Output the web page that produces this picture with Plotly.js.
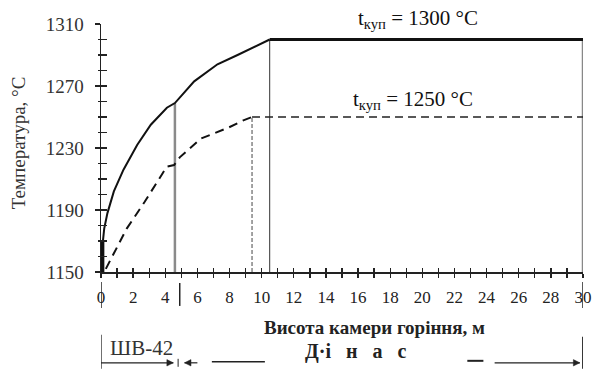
<!DOCTYPE html>
<html><head><meta charset="utf-8">
<script src="https://cdn.plot.ly/plotly-3.0.1.min.js"></script>
<style>html,body{margin:0;padding:0;background:#fff}#chart{width:597px;height:369px}</style>
</head><body><div id="chart"></div>
<script>
// Solid curve (t_куп = 1300 °C)
const solidX = [0.1, 0.1, 0.2, 0.4, 0.8, 1.4, 2.25, 3.1, 4.1, 4.6, 5.8, 7.25, 8.5, 9.75, 10.5];
const solidY = [1150, 1168, 1178, 1188, 1202, 1216, 1232, 1245, 1256, 1259, 1273, 1284, 1290, 1296, 1300];
const plateau1X = [10.5, 30];
const plateau1Y = [1300, 1300];
// Dashed curve (t_куп = 1250 °C)
const dashX = [0.3, 0.6, 0.9, 1.6, 2.7, 3.6, 4.1, 4.55, 4.9, 6.2, 7.9, 8.9, 9.4];
const dashY = [1152, 1158, 1164, 1178, 1195, 1210, 1218, 1219, 1224, 1236, 1243, 1248, 1250];
const plateau2X = [9.4, 30];
const plateau2Y = [1250, 1250];
// Vertical drop lines
const dropGrayX = [4.6, 4.6];   const dropGrayY = [1150, 1259];
const dropDashX = [9.4, 9.4];   const dropDashY = [1150, 1250];
const dropSolidX = [10.5, 10.5]; const dropSolidY = [1150, 1300];
const dropEndX = [30, 30];      const dropEndY = [1150, 1300];
const baseX = [0.1, 0.1];       const baseY = [1150, 1170];
// Ticks
const yTickVals = [1150, 1190, 1230, 1270, 1310];
const xTickVals = [0, 2, 4, 6, 8, 10, 12, 14, 16, 18, 20, 22, 24, 26, 28, 30];
// Texts
const labelHigh = 't<sub>куп</sub> = 1300 °C';
const labelLow = 't<sub>куп</sub> = 1250 °C';
const xTitle = 'Висота камери горіння, м';
const yTitle = 'Температура, °C';
const zoneA = 'ШВ-42';
const zoneB = 'Д·і   н   а   с';

const F = "Liberation Serif";
const line = (x, y, opt) => Object.assign({x, y, type: 'scatter', mode: 'lines', hoverinfo: 'skip', showlegend: false}, opt);

const traces = [
  line(dropGrayX, dropGrayY, {line: {color: '#8a8a8a', width: 2.5}}),
  line(dropDashX, dropDashY, {line: {color: '#666', width: 1.2, dash: '4px,2px'}}),
  line(dropSolidX, dropSolidY, {line: {color: '#333', width: 1}}),
  line(dropEndX, dropEndY, {line: {color: '#888', width: 2.5}}),
  line(solidX, solidY, {line: {color: '#111', width: 2}}),
  line(baseX, baseY, {line: {color: '#111', width: 3.5}}),
  line(plateau1X, plateau1Y, {line: {color: '#111', width: 3}}),
  line(dashX, dashY, {line: {color: '#111', width: 2, dash: '9px,6px'}}),
  line(plateau2X, plateau2Y, {line: {color: '#222', width: 1.5, dash: '8px,5px'}}),
  {x: [0], y: [1150], xaxis: 'x2', yaxis: 'y2', type: 'scatter', mode: 'markers', marker: {opacity: 0}, hoverinfo: 'skip', showlegend: false}
];

const BOT = 272, TOP = 23.5, LEFT = 101, PW = 482;
const py = p => (BOT - p) / (BOT - TOP);   // pixel row -> paper y
const txt = (x, y, text, size, color) => ({x, y, xref: 'x', yref: 'paper', xanchor: 'center', yanchor: 'middle', text, showarrow: false, font: {family: F, size, color}});
const L = (x0, x1, y0, y1, w) => ({type: 'line', xref: 'x', yref: 'paper', x0, x1, y0: py(y0), y1: py(y1), line: {color: '#222', width: w}});
const head = (xTip, dir, yp) => {
  const hl = 0.4 * dir, hh = 3.2 / (BOT - TOP), y = py(yp);
  return {type: 'path', xref: 'x', yref: 'paper', path: `M ${xTip} ${y} L ${xTip - hl} ${y + hh} L ${xTip - hl} ${y - hh} Z`, fillcolor: '#222', line: {color: '#222', width: 0.5}};
};

const layout = {
  width: 597, height: 369,
  margin: {l: LEFT, r: 597 - LEFT - PW, t: TOP, b: 369 - BOT},
  paper_bgcolor: '#fff', plot_bgcolor: '#fff',
  font: {family: F, color: '#222'},
  xaxis: {range: [0, 30], tickvals: xTickVals, ticktext: xTickVals.map(String), ticks: 'outside', ticklen: 4, tickwidth: 1.3, tickcolor: '#222',
    minor: {dtick: 1, ticks: 'outside', ticklen: 4, tickwidth: 1.3, tickcolor: '#222'},
    showline: true, linecolor: '#222', linewidth: 1.5, showgrid: false, zeroline: false, ticklabelstandoff: 5,
    tickfont: {family: F, size: 17, color: '#222'}, anchor: 'y'},
  yaxis: {range: [1150, 1310], tickvals: yTickVals, ticks: 'outside', ticklen: 5, tickwidth: 1.3, tickcolor: '#222',
    minor: {dtick: 10, ticks: 'outside', ticklen: 2, tickwidth: 1.3, tickcolor: '#222'},
    showline: true, linecolor: '#222', linewidth: 1.5, showgrid: false, zeroline: false, ticklabelstandoff: 7,
    tickfont: {family: F, size: 19, color: '#333'}},
  xaxis2: {range: [0, 30], overlaying: 'x', anchor: 'y2', dtick: 1, ticks: 'inside', ticklen: 4, tickwidth: 1.3, tickcolor: '#222', showticklabels: false, showgrid: false, zeroline: false, showline: false},
  yaxis2: {range: [1150, 1310], overlaying: 'y', anchor: 'x2', dtick: 10, ticks: 'inside', ticklen: 6, tickwidth: 1.3, tickcolor: '#222', showticklabels: false, showgrid: false, zeroline: false, showline: false},
  annotations: [
    {x: (18 - LEFT) / PW, y: py(143), xref: 'paper', yref: 'paper', xanchor: 'center', yanchor: 'middle', textangle: -90, text: yTitle, showarrow: false, font: {family: F, size: 19, color: '#333'}},
    txt(19.7, py(18), labelHigh, 21, '#111'),
    txt(19.4, py(100), labelLow, 21, '#111'),
    txt(17.0, py(328), '<b>' + xTitle + '</b>', 19, '#222'),
    txt(2.5, py(348), zoneA, 21, '#333'),
    txt(15.9, py(352), '<b>' + zoneB + '</b>', 20, '#222')
  ],
  shapes: [
    L(0, 0, 282, 308, 1.5),
    L(4.9, 4.9, 283, 306, 1.5),
    L(30, 30, 282, 308, 1.5),
    L(0, 0, 335, 369, 1.3),
    L(30, 30, 337, 369, 1.8),
    L(0, 4.5, 363, 363, 1.2), head(4.5, 1, 363),
    L(4.8, 4.8, 359, 367, 1),
    L(5.2, 6.0, 363, 363, 1.2), head(5.2, -1, 363),
    L(6.9, 10.2, 362, 362, 1.5),
    L(22.8, 23.8, 361, 361, 2),
    L(24.5, 29.8, 363, 363, 1.2), head(29.8, 1, 363)
  ]
};
Plotly.newPlot('chart', traces, layout, {staticPlot: true, displayModeBar: false});
</script></body></html>
